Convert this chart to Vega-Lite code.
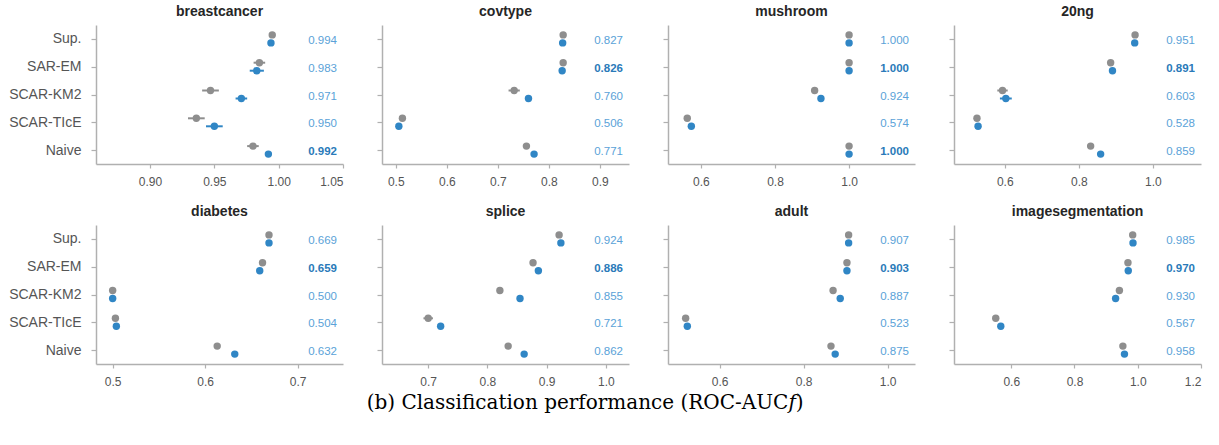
{
  "$schema": "https://vega.github.io/schema/vega-lite/v6.json",
  "padding": {"left": 8, "top": 5, "right": 5, "bottom": 5},
  "datasets": {
    "auc": [
      {"dataset": "breastcancer", "method": "Sup.", "series": "gray", "value": 0.995},
      {"dataset": "breastcancer", "method": "Sup.", "series": "blue", "value": 0.994},
      {"dataset": "breastcancer", "method": "SAR-EM", "series": "gray", "value": 0.985, "lo": 0.9805, "hi": 0.9895},
      {"dataset": "breastcancer", "method": "SAR-EM", "series": "blue", "value": 0.983, "lo": 0.9775, "hi": 0.9885},
      {"dataset": "breastcancer", "method": "SCAR-KM2", "series": "gray", "value": 0.947, "lo": 0.9405, "hi": 0.9535},
      {"dataset": "breastcancer", "method": "SCAR-KM2", "series": "blue", "value": 0.971, "lo": 0.9665, "hi": 0.9755},
      {"dataset": "breastcancer", "method": "SCAR-TIcE", "series": "gray", "value": 0.936, "lo": 0.9295, "hi": 0.9425},
      {"dataset": "breastcancer", "method": "SCAR-TIcE", "series": "blue", "value": 0.950, "lo": 0.9435, "hi": 0.9565},
      {"dataset": "breastcancer", "method": "Naive", "series": "gray", "value": 0.980, "lo": 0.9755, "hi": 0.9845},
      {"dataset": "breastcancer", "method": "Naive", "series": "blue", "value": 0.992, "best": true},

      {"dataset": "covtype", "method": "Sup.", "series": "gray", "value": 0.828},
      {"dataset": "covtype", "method": "Sup.", "series": "blue", "value": 0.827},
      {"dataset": "covtype", "method": "SAR-EM", "series": "gray", "value": 0.828},
      {"dataset": "covtype", "method": "SAR-EM", "series": "blue", "value": 0.826, "best": true},
      {"dataset": "covtype", "method": "SCAR-KM2", "series": "gray", "value": 0.732, "lo": 0.721, "hi": 0.743},
      {"dataset": "covtype", "method": "SCAR-KM2", "series": "blue", "value": 0.760},
      {"dataset": "covtype", "method": "SCAR-TIcE", "series": "gray", "value": 0.513},
      {"dataset": "covtype", "method": "SCAR-TIcE", "series": "blue", "value": 0.506},
      {"dataset": "covtype", "method": "Naive", "series": "gray", "value": 0.756},
      {"dataset": "covtype", "method": "Naive", "series": "blue", "value": 0.771},

      {"dataset": "mushroom", "method": "Sup.", "series": "gray", "value": 1.0},
      {"dataset": "mushroom", "method": "Sup.", "series": "blue", "value": 1.0},
      {"dataset": "mushroom", "method": "SAR-EM", "series": "gray", "value": 1.0},
      {"dataset": "mushroom", "method": "SAR-EM", "series": "blue", "value": 1.0, "best": true},
      {"dataset": "mushroom", "method": "SCAR-KM2", "series": "gray", "value": 0.907},
      {"dataset": "mushroom", "method": "SCAR-KM2", "series": "blue", "value": 0.924},
      {"dataset": "mushroom", "method": "SCAR-TIcE", "series": "gray", "value": 0.563},
      {"dataset": "mushroom", "method": "SCAR-TIcE", "series": "blue", "value": 0.574},
      {"dataset": "mushroom", "method": "Naive", "series": "gray", "value": 1.0},
      {"dataset": "mushroom", "method": "Naive", "series": "blue", "value": 1.0, "best": true},

      {"dataset": "20ng", "method": "Sup.", "series": "gray", "value": 0.952},
      {"dataset": "20ng", "method": "Sup.", "series": "blue", "value": 0.951},
      {"dataset": "20ng", "method": "SAR-EM", "series": "gray", "value": 0.886},
      {"dataset": "20ng", "method": "SAR-EM", "series": "blue", "value": 0.891, "best": true},
      {"dataset": "20ng", "method": "SCAR-KM2", "series": "gray", "value": 0.594, "lo": 0.580, "hi": 0.608},
      {"dataset": "20ng", "method": "SCAR-KM2", "series": "blue", "value": 0.603, "lo": 0.587, "hi": 0.619},
      {"dataset": "20ng", "method": "SCAR-TIcE", "series": "gray", "value": 0.525},
      {"dataset": "20ng", "method": "SCAR-TIcE", "series": "blue", "value": 0.528},
      {"dataset": "20ng", "method": "Naive", "series": "gray", "value": 0.832},
      {"dataset": "20ng", "method": "Naive", "series": "blue", "value": 0.859},

      {"dataset": "diabetes", "method": "Sup.", "series": "gray", "value": 0.669},
      {"dataset": "diabetes", "method": "Sup.", "series": "blue", "value": 0.669},
      {"dataset": "diabetes", "method": "SAR-EM", "series": "gray", "value": 0.662},
      {"dataset": "diabetes", "method": "SAR-EM", "series": "blue", "value": 0.659, "best": true},
      {"dataset": "diabetes", "method": "SCAR-KM2", "series": "gray", "value": 0.500},
      {"dataset": "diabetes", "method": "SCAR-KM2", "series": "blue", "value": 0.500},
      {"dataset": "diabetes", "method": "SCAR-TIcE", "series": "gray", "value": 0.503},
      {"dataset": "diabetes", "method": "SCAR-TIcE", "series": "blue", "value": 0.504},
      {"dataset": "diabetes", "method": "Naive", "series": "gray", "value": 0.613},
      {"dataset": "diabetes", "method": "Naive", "series": "blue", "value": 0.632},

      {"dataset": "splice", "method": "Sup.", "series": "gray", "value": 0.921},
      {"dataset": "splice", "method": "Sup.", "series": "blue", "value": 0.924},
      {"dataset": "splice", "method": "SAR-EM", "series": "gray", "value": 0.877},
      {"dataset": "splice", "method": "SAR-EM", "series": "blue", "value": 0.886, "best": true},
      {"dataset": "splice", "method": "SCAR-KM2", "series": "gray", "value": 0.821},
      {"dataset": "splice", "method": "SCAR-KM2", "series": "blue", "value": 0.855},
      {"dataset": "splice", "method": "SCAR-TIcE", "series": "gray", "value": 0.700, "lo": 0.692, "hi": 0.708},
      {"dataset": "splice", "method": "SCAR-TIcE", "series": "blue", "value": 0.721},
      {"dataset": "splice", "method": "Naive", "series": "gray", "value": 0.835},
      {"dataset": "splice", "method": "Naive", "series": "blue", "value": 0.862},

      {"dataset": "adult", "method": "Sup.", "series": "gray", "value": 0.907},
      {"dataset": "adult", "method": "Sup.", "series": "blue", "value": 0.907},
      {"dataset": "adult", "method": "SAR-EM", "series": "gray", "value": 0.903},
      {"dataset": "adult", "method": "SAR-EM", "series": "blue", "value": 0.903, "best": true},
      {"dataset": "adult", "method": "SCAR-KM2", "series": "gray", "value": 0.870},
      {"dataset": "adult", "method": "SCAR-KM2", "series": "blue", "value": 0.887},
      {"dataset": "adult", "method": "SCAR-TIcE", "series": "gray", "value": 0.519},
      {"dataset": "adult", "method": "SCAR-TIcE", "series": "blue", "value": 0.523},
      {"dataset": "adult", "method": "Naive", "series": "gray", "value": 0.865},
      {"dataset": "adult", "method": "Naive", "series": "blue", "value": 0.875},

      {"dataset": "imagesegmentation", "method": "Sup.", "series": "gray", "value": 0.984},
      {"dataset": "imagesegmentation", "method": "Sup.", "series": "blue", "value": 0.985},
      {"dataset": "imagesegmentation", "method": "SAR-EM", "series": "gray", "value": 0.969},
      {"dataset": "imagesegmentation", "method": "SAR-EM", "series": "blue", "value": 0.970, "best": true},
      {"dataset": "imagesegmentation", "method": "SCAR-KM2", "series": "gray", "value": 0.942},
      {"dataset": "imagesegmentation", "method": "SCAR-KM2", "series": "blue", "value": 0.930},
      {"dataset": "imagesegmentation", "method": "SCAR-TIcE", "series": "gray", "value": 0.551},
      {"dataset": "imagesegmentation", "method": "SCAR-TIcE", "series": "blue", "value": 0.567},
      {"dataset": "imagesegmentation", "method": "Naive", "series": "gray", "value": 0.953},
      {"dataset": "imagesegmentation", "method": "Naive", "series": "blue", "value": 0.958}
    ]
  },
  "data": {"name": "auc"},
  "title": {
    "text": "(b) Classification performance (ROC-AUC𝑓)",
    "orient": "bottom",
    "anchor": "middle",
    "font": "DejaVu Serif",
    "fontSize": 20,
    "fontWeight": "normal",
    "color": "#000000",
    "offset": 6,
    "dx": -20
  },
  "columns": 4,
  "spacing": {"row": 61, "column": 39},
  "bounds": "flush",
  "concat": [
    {
      "title": "breastcancer",
      "width": 247, "height": 139,
      "transform": [{"filter": "datum.dataset == 'breastcancer'"}],
      "encoding": {
        "y": {"field": "method", "type": "nominal", "sort": ["Sup.", "SAR-EM", "SCAR-KM2", "SCAR-TIcE", "Naive"], "scale": {"type": "point", "padding": 0.5}, "title": null},
        "x": {"field": "value", "type": "quantitative", "title": null, "scale": {"domain": [0.858, 1.05], "nice": false, "zero": false}, "axis": {"values": [0.9, 0.95, 1.0, 1.05], "format": ".2f"}}
      },
      "layer": [
        {"transform": [{"filter": "datum.series == 'gray' && isValid(datum.lo)"}], "mark": {"type": "rule", "color": "#8e8e8e", "strokeWidth": 2}, "encoding": {"x": {"field": "lo", "type": "quantitative", "title": null}, "x2": {"field": "hi"}, "yOffset": {"value": -4}}},
        {"transform": [{"filter": "datum.series == 'gray'"}], "mark": {"type": "circle", "color": "#8e8e8e", "size": 55, "opacity": 1}, "encoding": {"yOffset": {"value": -4}}},
        {"transform": [{"filter": "datum.series == 'blue' && isValid(datum.lo)"}], "mark": {"type": "rule", "color": "#3086c5", "strokeWidth": 2}, "encoding": {"x": {"field": "lo", "type": "quantitative", "title": null}, "x2": {"field": "hi"}, "yOffset": {"value": 4}}},
        {"transform": [{"filter": "datum.series == 'blue'"}], "mark": {"type": "circle", "color": "#3086c5", "size": 55, "opacity": 1}, "encoding": {"yOffset": {"value": 4}}},
        {"transform": [{"filter": "datum.series == 'blue' && !datum.best"}], "mark": {"type": "text", "align": "right", "baseline": "middle", "dx": -6, "dy": 2, "fontSize": 11.5, "color": "#5aa2d8"}, "encoding": {"x": {"value": "width"}, "text": {"field": "value", "format": ".3f"}}},
        {"transform": [{"filter": "datum.series == 'blue' && datum.best"}], "mark": {"type": "text", "align": "right", "baseline": "middle", "dx": -6, "dy": 2, "fontSize": 11.5, "fontWeight": "bold", "color": "#2a7ab9"}, "encoding": {"x": {"value": "width"}, "text": {"field": "value", "format": ".3f"}}}
      ]
    },
    {
      "title": "covtype",
      "width": 247, "height": 139,
      "transform": [{"filter": "datum.dataset == 'covtype'"}],
      "encoding": {
        "y": {"field": "method", "type": "nominal", "sort": ["Sup.", "SAR-EM", "SCAR-KM2", "SCAR-TIcE", "Naive"], "scale": {"type": "point", "padding": 0.5}, "title": null, "axis": {"labels": false}},
        "x": {"field": "value", "type": "quantitative", "title": null, "scale": {"domain": [0.473, 0.957], "nice": false, "zero": false}, "axis": {"values": [0.5, 0.6, 0.7, 0.8, 0.9], "format": ".1f"}}
      },
      "layer": [
        {"transform": [{"filter": "datum.series == 'gray' && isValid(datum.lo)"}], "mark": {"type": "rule", "color": "#8e8e8e", "strokeWidth": 2}, "encoding": {"x": {"field": "lo", "type": "quantitative", "title": null}, "x2": {"field": "hi"}, "yOffset": {"value": -4}}},
        {"transform": [{"filter": "datum.series == 'gray'"}], "mark": {"type": "circle", "color": "#8e8e8e", "size": 55, "opacity": 1}, "encoding": {"yOffset": {"value": -4}}},
        {"transform": [{"filter": "datum.series == 'blue'"}], "mark": {"type": "circle", "color": "#3086c5", "size": 55, "opacity": 1}, "encoding": {"yOffset": {"value": 4}}},
        {"transform": [{"filter": "datum.series == 'blue' && !datum.best"}], "mark": {"type": "text", "align": "right", "baseline": "middle", "dx": -6, "dy": 2, "fontSize": 11.5, "color": "#5aa2d8"}, "encoding": {"x": {"value": "width"}, "text": {"field": "value", "format": ".3f"}}},
        {"transform": [{"filter": "datum.series == 'blue' && datum.best"}], "mark": {"type": "text", "align": "right", "baseline": "middle", "dx": -6, "dy": 2, "fontSize": 11.5, "fontWeight": "bold", "color": "#2a7ab9"}, "encoding": {"x": {"value": "width"}, "text": {"field": "value", "format": ".3f"}}}
      ]
    },
    {
      "title": "mushroom",
      "width": 247, "height": 139,
      "transform": [{"filter": "datum.dataset == 'mushroom'"}],
      "encoding": {
        "y": {"field": "method", "type": "nominal", "sort": ["Sup.", "SAR-EM", "SCAR-KM2", "SCAR-TIcE", "Naive"], "scale": {"type": "point", "padding": 0.5}, "title": null, "axis": {"labels": false}},
        "x": {"field": "value", "type": "quantitative", "title": null, "scale": {"domain": [0.511, 1.178], "nice": false, "zero": false}, "axis": {"values": [0.6, 0.8, 1.0], "format": ".1f"}}
      },
      "layer": [
        {"transform": [{"filter": "datum.series == 'gray'"}], "mark": {"type": "circle", "color": "#8e8e8e", "size": 55, "opacity": 1}, "encoding": {"yOffset": {"value": -4}}},
        {"transform": [{"filter": "datum.series == 'blue'"}], "mark": {"type": "circle", "color": "#3086c5", "size": 55, "opacity": 1}, "encoding": {"yOffset": {"value": 4}}},
        {"transform": [{"filter": "datum.series == 'blue' && !datum.best"}], "mark": {"type": "text", "align": "right", "baseline": "middle", "dx": -6, "dy": 2, "fontSize": 11.5, "color": "#5aa2d8"}, "encoding": {"x": {"value": "width"}, "text": {"field": "value", "format": ".3f"}}},
        {"transform": [{"filter": "datum.series == 'blue' && datum.best"}], "mark": {"type": "text", "align": "right", "baseline": "middle", "dx": -6, "dy": 2, "fontSize": 11.5, "fontWeight": "bold", "color": "#2a7ab9"}, "encoding": {"x": {"value": "width"}, "text": {"field": "value", "format": ".3f"}}}
      ]
    },
    {
      "title": "20ng",
      "width": 247, "height": 139,
      "transform": [{"filter": "datum.dataset == '20ng'"}],
      "encoding": {
        "y": {"field": "method", "type": "nominal", "sort": ["Sup.", "SAR-EM", "SCAR-KM2", "SCAR-TIcE", "Naive"], "scale": {"type": "point", "padding": 0.5}, "title": null, "axis": {"labels": false}},
        "x": {"field": "value", "type": "quantitative", "title": null, "scale": {"domain": [0.463, 1.13], "nice": false, "zero": false}, "axis": {"values": [0.6, 0.8, 1.0], "format": ".1f"}}
      },
      "layer": [
        {"transform": [{"filter": "datum.series == 'gray' && isValid(datum.lo)"}], "mark": {"type": "rule", "color": "#8e8e8e", "strokeWidth": 2}, "encoding": {"x": {"field": "lo", "type": "quantitative", "title": null}, "x2": {"field": "hi"}, "yOffset": {"value": -4}}},
        {"transform": [{"filter": "datum.series == 'gray'"}], "mark": {"type": "circle", "color": "#8e8e8e", "size": 55, "opacity": 1}, "encoding": {"yOffset": {"value": -4}}},
        {"transform": [{"filter": "datum.series == 'blue' && isValid(datum.lo)"}], "mark": {"type": "rule", "color": "#3086c5", "strokeWidth": 2}, "encoding": {"x": {"field": "lo", "type": "quantitative", "title": null}, "x2": {"field": "hi"}, "yOffset": {"value": 4}}},
        {"transform": [{"filter": "datum.series == 'blue'"}], "mark": {"type": "circle", "color": "#3086c5", "size": 55, "opacity": 1}, "encoding": {"yOffset": {"value": 4}}},
        {"transform": [{"filter": "datum.series == 'blue' && !datum.best"}], "mark": {"type": "text", "align": "right", "baseline": "middle", "dx": -6, "dy": 2, "fontSize": 11.5, "color": "#5aa2d8"}, "encoding": {"x": {"value": "width"}, "text": {"field": "value", "format": ".3f"}}},
        {"transform": [{"filter": "datum.series == 'blue' && datum.best"}], "mark": {"type": "text", "align": "right", "baseline": "middle", "dx": -6, "dy": 2, "fontSize": 11.5, "fontWeight": "bold", "color": "#2a7ab9"}, "encoding": {"x": {"value": "width"}, "text": {"field": "value", "format": ".3f"}}}
      ]
    },
    {
      "title": "diabetes",
      "width": 247, "height": 139,
      "transform": [{"filter": "datum.dataset == 'diabetes'"}],
      "encoding": {
        "y": {"field": "method", "type": "nominal", "sort": ["Sup.", "SAR-EM", "SCAR-KM2", "SCAR-TIcE", "Naive"], "scale": {"type": "point", "padding": 0.5}, "title": null},
        "x": {"field": "value", "type": "quantitative", "title": null, "scale": {"domain": [0.482, 0.749], "nice": false, "zero": false}, "axis": {"values": [0.5, 0.6, 0.7], "format": ".1f"}}
      },
      "layer": [
        {"transform": [{"filter": "datum.series == 'gray'"}], "mark": {"type": "circle", "color": "#8e8e8e", "size": 55, "opacity": 1}, "encoding": {"yOffset": {"value": -4}}},
        {"transform": [{"filter": "datum.series == 'blue'"}], "mark": {"type": "circle", "color": "#3086c5", "size": 55, "opacity": 1}, "encoding": {"yOffset": {"value": 4}}},
        {"transform": [{"filter": "datum.series == 'blue' && !datum.best"}], "mark": {"type": "text", "align": "right", "baseline": "middle", "dx": -6, "dy": 2, "fontSize": 11.5, "color": "#5aa2d8"}, "encoding": {"x": {"value": "width"}, "text": {"field": "value", "format": ".3f"}}},
        {"transform": [{"filter": "datum.series == 'blue' && datum.best"}], "mark": {"type": "text", "align": "right", "baseline": "middle", "dx": -6, "dy": 2, "fontSize": 11.5, "fontWeight": "bold", "color": "#2a7ab9"}, "encoding": {"x": {"value": "width"}, "text": {"field": "value", "format": ".3f"}}}
      ]
    },
    {
      "title": "splice",
      "width": 247, "height": 139,
      "transform": [{"filter": "datum.dataset == 'splice'"}],
      "encoding": {
        "y": {"field": "method", "type": "nominal", "sort": ["Sup.", "SAR-EM", "SCAR-KM2", "SCAR-TIcE", "Naive"], "scale": {"type": "point", "padding": 0.5}, "title": null, "axis": {"labels": false}},
        "x": {"field": "value", "type": "quantitative", "title": null, "scale": {"domain": [0.622, 1.039], "nice": false, "zero": false}, "axis": {"values": [0.7, 0.8, 0.9, 1.0], "format": ".1f"}}
      },
      "layer": [
        {"transform": [{"filter": "datum.series == 'gray' && isValid(datum.lo)"}], "mark": {"type": "rule", "color": "#8e8e8e", "strokeWidth": 2}, "encoding": {"x": {"field": "lo", "type": "quantitative", "title": null}, "x2": {"field": "hi"}, "yOffset": {"value": -4}}},
        {"transform": [{"filter": "datum.series == 'gray'"}], "mark": {"type": "circle", "color": "#8e8e8e", "size": 55, "opacity": 1}, "encoding": {"yOffset": {"value": -4}}},
        {"transform": [{"filter": "datum.series == 'blue'"}], "mark": {"type": "circle", "color": "#3086c5", "size": 55, "opacity": 1}, "encoding": {"yOffset": {"value": 4}}},
        {"transform": [{"filter": "datum.series == 'blue' && !datum.best"}], "mark": {"type": "text", "align": "right", "baseline": "middle", "dx": -6, "dy": 2, "fontSize": 11.5, "color": "#5aa2d8"}, "encoding": {"x": {"value": "width"}, "text": {"field": "value", "format": ".3f"}}},
        {"transform": [{"filter": "datum.series == 'blue' && datum.best"}], "mark": {"type": "text", "align": "right", "baseline": "middle", "dx": -6, "dy": 2, "fontSize": 11.5, "fontWeight": "bold", "color": "#2a7ab9"}, "encoding": {"x": {"value": "width"}, "text": {"field": "value", "format": ".3f"}}}
      ]
    },
    {
      "title": "adult",
      "width": 247, "height": 139,
      "transform": [{"filter": "datum.dataset == 'adult'"}],
      "encoding": {
        "y": {"field": "method", "type": "nominal", "sort": ["Sup.", "SAR-EM", "SCAR-KM2", "SCAR-TIcE", "Naive"], "scale": {"type": "point", "padding": 0.5}, "title": null, "axis": {"labels": false}},
        "x": {"field": "value", "type": "quantitative", "title": null, "scale": {"domain": [0.477, 1.065], "nice": false, "zero": false}, "axis": {"values": [0.6, 0.8, 1.0], "format": ".1f"}}
      },
      "layer": [
        {"transform": [{"filter": "datum.series == 'gray'"}], "mark": {"type": "circle", "color": "#8e8e8e", "size": 55, "opacity": 1}, "encoding": {"yOffset": {"value": -4}}},
        {"transform": [{"filter": "datum.series == 'blue'"}], "mark": {"type": "circle", "color": "#3086c5", "size": 55, "opacity": 1}, "encoding": {"yOffset": {"value": 4}}},
        {"transform": [{"filter": "datum.series == 'blue' && !datum.best"}], "mark": {"type": "text", "align": "right", "baseline": "middle", "dx": -6, "dy": 2, "fontSize": 11.5, "color": "#5aa2d8"}, "encoding": {"x": {"value": "width"}, "text": {"field": "value", "format": ".3f"}}},
        {"transform": [{"filter": "datum.series == 'blue' && datum.best"}], "mark": {"type": "text", "align": "right", "baseline": "middle", "dx": -6, "dy": 2, "fontSize": 11.5, "fontWeight": "bold", "color": "#2a7ab9"}, "encoding": {"x": {"value": "width"}, "text": {"field": "value", "format": ".3f"}}}
      ]
    },
    {
      "title": "imagesegmentation",
      "width": 247, "height": 139,
      "transform": [{"filter": "datum.dataset == 'imagesegmentation'"}],
      "encoding": {
        "y": {"field": "method", "type": "nominal", "sort": ["Sup.", "SAR-EM", "SCAR-KM2", "SCAR-TIcE", "Naive"], "scale": {"type": "point", "padding": 0.5}, "title": null, "axis": {"labels": false}},
        "x": {"field": "value", "type": "quantitative", "title": null, "scale": {"domain": [0.419, 1.2], "nice": false, "zero": false}, "axis": {"values": [0.6, 0.8, 1.0, 1.2], "format": ".1f"}}
      },
      "layer": [
        {"transform": [{"filter": "datum.series == 'gray'"}], "mark": {"type": "circle", "color": "#8e8e8e", "size": 55, "opacity": 1}, "encoding": {"yOffset": {"value": -4}}},
        {"transform": [{"filter": "datum.series == 'blue'"}], "mark": {"type": "circle", "color": "#3086c5", "size": 55, "opacity": 1}, "encoding": {"yOffset": {"value": 4}}},
        {"transform": [{"filter": "datum.series == 'blue' && !datum.best"}], "mark": {"type": "text", "align": "right", "baseline": "middle", "dx": -6, "dy": 2, "fontSize": 11.5, "color": "#5aa2d8"}, "encoding": {"x": {"value": "width"}, "text": {"field": "value", "format": ".3f"}}},
        {"transform": [{"filter": "datum.series == 'blue' && datum.best"}], "mark": {"type": "text", "align": "right", "baseline": "middle", "dx": -6, "dy": 2, "fontSize": 11.5, "fontWeight": "bold", "color": "#2a7ab9"}, "encoding": {"x": {"value": "width"}, "text": {"field": "value", "format": ".3f"}}}
      ]
    }
  ],
  "config": {
    "view": {"stroke": null},
    "font": "Liberation Sans",
    "axis": {
      "grid": false,
      "domainColor": "#b0b0b0",
      "domainWidth": 1.5,
      "tickColor": "#b0b0b0",
      "tickWidth": 1.2,
      "tickSize": 4,
      "labelColor": "#555555",
      "labelFont": "Liberation Sans",
      "labelFontSize": 12
    },
    "axisX": {"labelPadding": 8},
    "axisY": {"labelFontSize": 14, "tickSize": 5, "labelPadding": 10},
    "title": {"font": "Liberation Sans", "fontSize": 14, "fontWeight": "bold", "color": "#262626", "offset": 6}
  }
}
